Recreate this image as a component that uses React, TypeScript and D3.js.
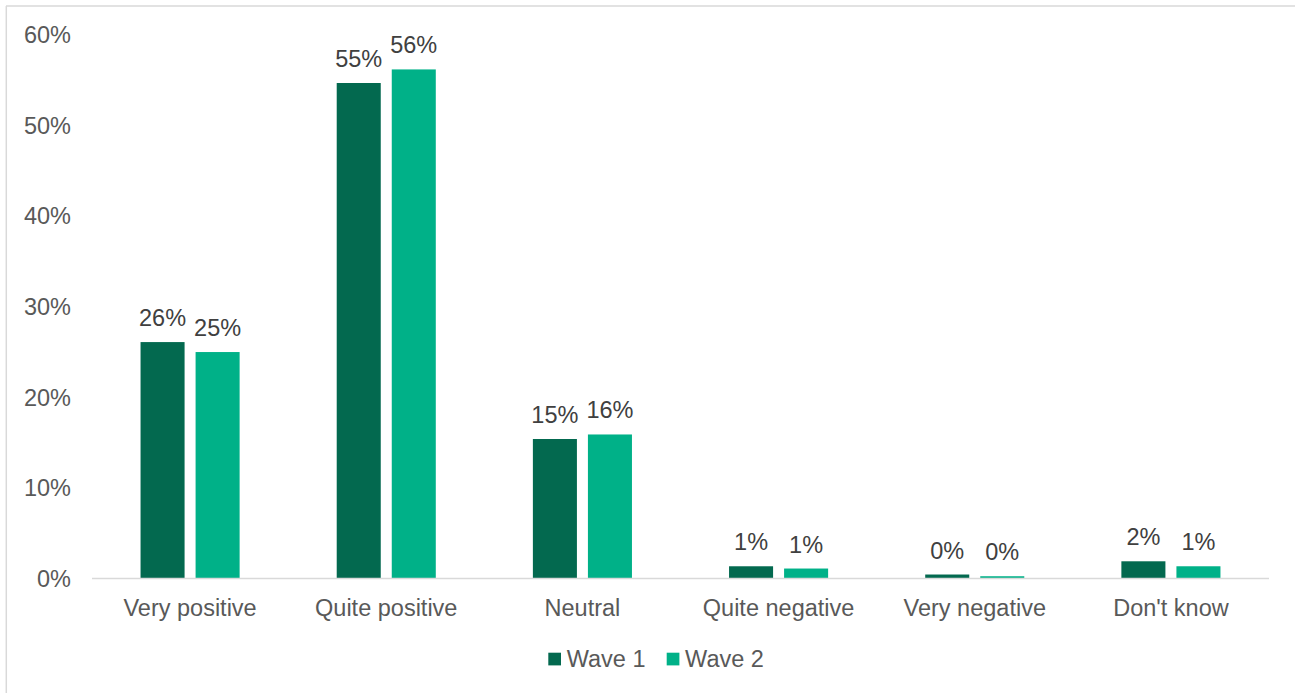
import React from "react";
import * as d3 from "d3";

const categories = ["Very positive", "Quite positive", "Neutral", "Quite negative", "Very negative", "Don't know"];
const seriesNames = ["Wave 1", "Wave 2"];
const wave1 = [0.261, 0.547, 0.154, 0.0135, 0.0044, 0.019];
const wave2 = [0.25, 0.562, 0.159, 0.011, 0.0025, 0.0135];
const yTicks = [0, 0.1, 0.2, 0.3, 0.4, 0.5, 0.6];
const colors = ["#03694F", "#00B188"];

const W = 1295;
const H = 693;
const FONT = "'Liberation Sans', Arial, sans-serif";

export default function App() {
  const x0 = d3.scaleBand<string>().domain(categories).range([92, 1269]).paddingInner(0).paddingOuter(0);
  const x1 = d3
    .scaleBand<string>()
    .domain(seriesNames)
    .range([0, x0.bandwidth()])
    .paddingInner(0.2)
    .paddingOuter(0.882);
  const y = d3.scaleLinear().domain([0, 0.6]).range([578.5, 35]);
  const series = [wave1, wave2];
  const fmt = d3.format(".0%");

  return (
    <svg
      width={W}
      height={H}
      style={{ position: "absolute", left: 0, top: 0, background: "#fff" }}
      fontFamily={FONT}
    >
      <rect x={0} y={0} width={W} height={H} fill="#fff" />
      {/* outer frame */}
      <line x1={6} x2={W} y1={6} y2={6} stroke="#d9d9d9" strokeWidth={1.5} />
      <line x1={6.3} x2={6.3} y1={6} y2={H} stroke="#d9d9d9" strokeWidth={1.5} />

      {/* y axis labels */}
      {yTicks.map((t) => (
        <text key={t} x={71} y={y(t)} dy="0.35em" textAnchor="end" fontSize={23.5} fill="#595959">
          {fmt(t)}
        </text>
      ))}

      {/* bars */}
      {series.map((vals, si) =>
        vals.map((v, ci) => {
          const bx = (x0(categories[ci]) ?? 0) + (x1(seriesNames[si]) ?? 0);
          return (
            <rect
              key={`${si}-${ci}`}
              x={bx}
              y={y(v)}
              width={x1.bandwidth()}
              height={y(0) - y(v)}
              fill={colors[si]}
            />
          );
        })
      )}

      {/* data labels */}
      {series.map((vals, si) =>
        vals.map((v, ci) => {
          const cx = (x0(categories[ci]) ?? 0) + (x1(seriesNames[si]) ?? 0) + x1.bandwidth() / 2;
          return (
            <text
              key={`l-${si}-${ci}`}
              x={cx}
              y={y(v) - 16}
              textAnchor="middle"
              fontSize={23.5}
              fill="#404040"
            >
              {fmt(v)}
            </text>
          );
        })
      )}

      {/* x axis line */}
      <line x1={92} x2={1269} y1={578.5} y2={578.5} stroke="#d9d9d9" strokeWidth={1.5} />

      {/* x labels */}
      {categories.map((c) => (
        <text
          key={c}
          x={(x0(c) ?? 0) + x0.bandwidth() / 2}
          y={616}
          textAnchor="middle"
          fontSize={23.5}
          fill="#595959"
        >
          {c}
        </text>
      ))}

      {/* legend */}
      {seriesNames.map((s, i) => {
        const lx = 548.3 + i * 118.4;
        return (
          <g key={s}>
            <rect x={lx} y={652.7} width={12.7} height={12.7} fill={colors[i]} />
            <text x={lx + 18.4} y={667} fontSize={23.5} fill="#595959">
              {s}
            </text>
          </g>
        );
      })}
    </svg>
  );
}
